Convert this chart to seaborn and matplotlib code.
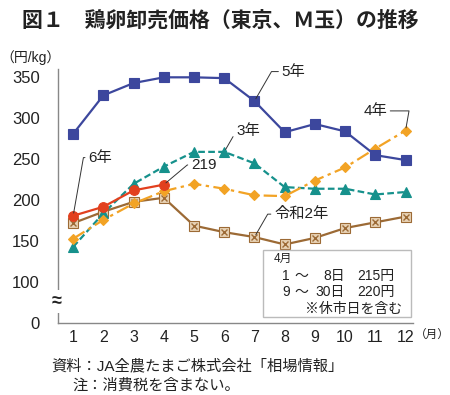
import numpy as np
import pandas as pd
import matplotlib
matplotlib.use("Agg")
import matplotlib.pyplot as plt
from matplotlib.patches import Rectangle
import seaborn as sns

sns.set_theme(style="white")
plt.rcParams["font.family"] = ["Liberation Sans", "Noto Sans CJK JP", "DejaVu Sans"]
plt.rcParams["axes.unicode_minus"] = False

# データ (円/kg)
months = list(range(1, 13))
r2 = [172, 186, 198, 203, 169, 161, 155, 146, 154, 166, 173, 180]
r3 = [143, 184, 220, 241, 259, 259, 245, 216, 214, 214, 207, 210]
r4 = [153, 176, 196, 211, 220, 214, 206, 205, 224, 240, 263, 285]
r5 = [281, 328, 343, 350, 350, 349, 321, 283, 293, 284, 255, 249]
r6 = [181, 192, 212, 219]

y_ticks = [50, 100, 150, 200, 250, 300, 350]
y_tick_labels = ["0", "100", "150", "200", "250", "300", "350"]

# 4月の内訳
apr_days = ["1", "9"]
apr_ends = ["8日", "30日"]
apr_prices = ["215円", "220円"]

# 系列ごとの書式
styles = {
    "令和2年": dict(data=r2, color="#9C6A35", ls="-", marker="s", mfc="#E8D2B5", ms=7),
    "3年": dict(data=r3, color="#16918C", ls=(0, (3, 1.5)), marker="^", mfc="#16918C", ms=7),
    "4年": dict(data=r4, color="#F2A325", ls=(0, (6, 2, 1.5, 2)), marker="D", mfc="#F2A325", ms=5),
    "5年": dict(data=r5, color="#3C479D", ls="-", marker="s", mfc="#3C479D", ms=7),
    "6年": dict(data=r6, color="#E2401E", ls="-", marker="o", mfc="#E2401E", ms=7),
}

fig = plt.figure(figsize=(4.5, 3.95), dpi=100)
ax = fig.add_axes([0.129, 0.182, 0.789, 0.643])

for name, st in styles.items():
    df = pd.DataFrame({"month": months[:len(st["data"])], "price": st["data"]})
    sns.lineplot(data=df, x="month", y="price", ax=ax, color=st["color"],
                 linestyle=st["ls"], linewidth=1.6, marker=st["marker"],
                 markersize=st["ms"], markerfacecolor=st["mfc"],
                 markeredgecolor=st["color"], markeredgewidth=0.8)
    if name == "令和2年":
        # 四角の中の×印
        ax.plot(df["month"], df["price"], ls="none", marker="x",
                color=st["color"], ms=5, mew=1.0)

ax.set_xlim(0.5, 12.25)
ax.set_ylim(50, 360)
ax.set_xticks(months)
ax.set_xticklabels([str(m) for m in months])
ax.set_yticks(y_ticks)
ax.set_yticklabels(y_tick_labels)
ax.set_xlabel("")
ax.set_ylabel("")
ax.tick_params(axis="both", length=0, labelsize=12, colors="#222222")
ax.tick_params(axis="x", labelsize=11.5, pad=5)
ax.tick_params(axis="y", pad=13)
for s in ["top", "right"]:
    ax.spines[s].set_visible(False)
for s in ["left", "bottom"]:
    ax.spines[s].set_color("#888888")
    ax.spines[s].set_linewidth(1.0)

# 軸の省略記号
ax.text(-0.005, 0.085, "≈", transform=ax.transAxes, ha="center", va="center",
        fontsize=13, fontweight="bold", color="#222222", clip_on=False,
        bbox=dict(boxstyle="square,pad=0.15", fc="white", ec="none"))

# 系列ラベル
lab = dict(fontsize=11, color="#222222")
arr = dict(arrowstyle="-", color="#333333", lw=0.7, shrinkA=0, shrinkB=2)
ax.annotate("5年", xy=(7, r5[6]), xytext=(7.9, 357), va="center", ha="left",
            arrowprops=dict(arr, connectionstyle="angle,angleA=0,angleB=60,rad=0"), **lab)
ax.annotate("4年", xy=(12, r4[11]), xytext=(10.6, 309), va="center", ha="left",
            arrowprops=dict(arr, connectionstyle="angle,angleA=180,angleB=80,rad=0"), **lab)
ax.annotate("3年", xy=(6, r3[5]), xytext=(6.4, 285), va="center", ha="left",
            arrowprops=dict(arr, connectionstyle="angle,angleA=0,angleB=60,rad=0"), **lab)
ax.annotate("6年", xy=(1, r6[0]), xytext=(1.5, 252), va="center", ha="left",
            arrowprops=dict(arr, connectionstyle="angle,angleA=0,angleB=80,rad=0"), **lab)
ax.annotate(str(r6[3]), xy=(4, r6[3]), xytext=(4.9, 243), va="center", ha="left",
            arrowprops=dict(arr, connectionstyle="angle,angleA=0,angleB=40,rad=0"), **lab)
ax.annotate("令和2年", xy=(7, r2[6]), xytext=(7.65, 183), va="center", ha="left",
            arrowprops=dict(arr, connectionstyle="angle,angleA=0,angleB=60,rad=0"), **lab)

# 4月の注記ボックス
ax.add_patch(Rectangle((7.28, 57), 4.89, 82.5, fc="white", ec="#BBBBBB",
                       lw=1.0, zorder=5))
bt = dict(color="#222222", va="center", zorder=6)
ax.text(7.63, 128, "4月", ha="left", fontsize=8.5, **bt)
for row_y, d, e, p in zip([108, 87.5], apr_days, apr_ends, apr_prices):
    ax.text(7.91, row_y, d, ha="left", fontsize=10, **bt)
    ax.text(8.55, row_y, "～", ha="center", fontsize=10, **bt)
    ax.text(10.0, row_y, e, ha="right", fontsize=10, **bt)
    ax.text(10.4, row_y, p, ha="left", fontsize=10, **bt)
ax.text(8.68, 67, "※休市日を含む", ha="left", fontsize=10, **bt)

# タイトル・単位・出典
fig.text(0.048, 0.948, "図１　鶏卵卸売価格（東京、Ｍ玉）の推移", fontsize=15,
         fontweight="bold", ha="left", va="center", color="#222222")
fig.text(0.0, 0.855, "（円/kg）", fontsize=10, ha="left", va="center", color="#222222")
fig.text(0.923, 0.149, "（月）", fontsize=8.4, ha="left", va="center", color="#222222")
fig.text(0.115, 0.073, "資料：JA全農たまご株式会社「相場情報」", fontsize=11,
         ha="left", va="center", color="#222222")
fig.text(0.16, 0.023, "注：消費税を含まない。", fontsize=11,
         ha="left", va="center", color="#222222")

fig.savefig("out.png", dpi=100)
